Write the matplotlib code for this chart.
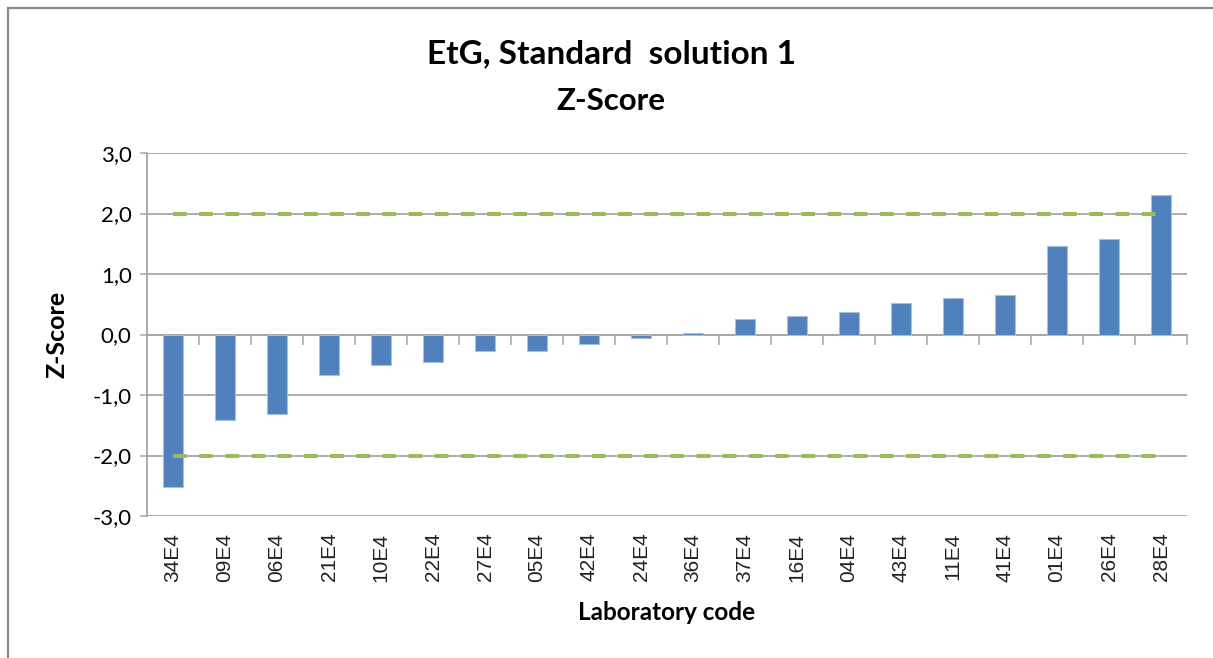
import matplotlib.pyplot as plt
from matplotlib.lines import Line2D

# lab codes and z-scores, sorted as in the report
labs = ["34E4", "09E4", "06E4", "21E4", "10E4", "22E4", "27E4", "05E4", "42E4", "24E4",
        "36E4", "37E4", "16E4", "04E4", "43E4", "11E4", "41E4", "01E4", "26E4", "28E4"]
zscores = [-2.52, -1.41, -1.31, -0.67, -0.50, -0.46, -0.28, -0.27, -0.16, -0.06,
           0.03, 0.26, 0.30, 0.37, 0.52, 0.60, 0.65, 1.47, 1.58, 2.30]
limit_hi = 2.0
limit_lo = -2.0
yticks = [-3, -2, -1, 0, 1, 2, 3]

grey = "#A6A6A6"
bar_col = "#4F81BD"
green = "#9BBB59"

fig = plt.figure(figsize=(12.13, 6.58), dpi=100, facecolor="w")
ax = fig.add_axes([147 / 1213, 1 - 516 / 658, (1187 - 147) / 1213, (516 - 153) / 658])

x = list(range(len(labs)))
ax.bar(x, zscores, width=0.4, color=bar_col, edgecolor="#A7BFDE", linewidth=0.8, zorder=2)
ax.plot(x, [limit_hi] * len(x), color=green, linewidth=2.9,
        linestyle=(0, (3.4, 3.1)), zorder=3)
ax.plot(x, [limit_lo] * len(x), color=green, linewidth=2.9,
        linestyle=(0, (3.4, 3.1)), zorder=3)

ax.set_xlim(-0.5, len(labs) - 0.5)
ax.set_ylim(-3, 3)
ax.set_yticks(yticks)
ax.set_yticklabels([f"{v:.1f}".replace(".", ",") for v in yticks],
                   fontfamily="Lato", fontsize=16)
ax.yaxis.grid(True, color=grey, linewidth=1.3, zorder=0)
ax.tick_params(axis="y", length=5, width=1.1, color=grey, pad=6)

ax.set_xticks(x)
ax.set_xticklabels(labs, rotation=90, fontfamily="Liberation Sans", fontsize=15,
                   color="#222222")
ax.tick_params(axis="x", length=0, pad=12)

for s in ["top", "right", "bottom"]:
    ax.spines[s].set_visible(False)
ax.spines["left"].set_color(grey)
ax.spines["left"].set_linewidth(1.3)

# category axis sits on zero, with tick marks between categories
sec = ax.secondary_xaxis(0, transform=ax.transData)
sec.set_xticks([i + 0.5 for i in x])
sec.set_xticklabels([])
sec.tick_params(axis="x", length=7, width=1.1, color=grey, direction="out")
sec.spines["bottom"].set_color(grey)
sec.spines["bottom"].set_linewidth(1.3)

ax.set_ylabel("Z-Score", fontfamily="Lato", fontweight="bold", fontsize=18, labelpad=17)
ax.set_xlabel("Laboratory code", fontfamily="Lato", fontweight="bold", fontsize=17.5,
              labelpad=14)

fig.text(0.504, 1 - 54 / 658, "EtG, Standard  solution 1", ha="center", va="center",
         fontfamily="Lato", fontweight="bold", fontsize=24)
fig.text(0.504, 1 - 101 / 658, "Z-Score", ha="center", va="center",
         fontfamily="Lato", fontweight="bold", fontsize=22.5)

# chart frame (left and top edges are visible in the reference)
fig.add_artist(Line2D([8 / 1213, 8 / 1213], [0, 1 - 8 / 658], color="#8C8C8C",
                      linewidth=1.6, transform=fig.transFigure))
fig.add_artist(Line2D([8 / 1213, 1], [1 - 8 / 658, 1 - 8 / 658], color="#8C8C8C",
                      linewidth=1.6, transform=fig.transFigure))

plt.savefig("out.png", dpi=100, facecolor="w")
